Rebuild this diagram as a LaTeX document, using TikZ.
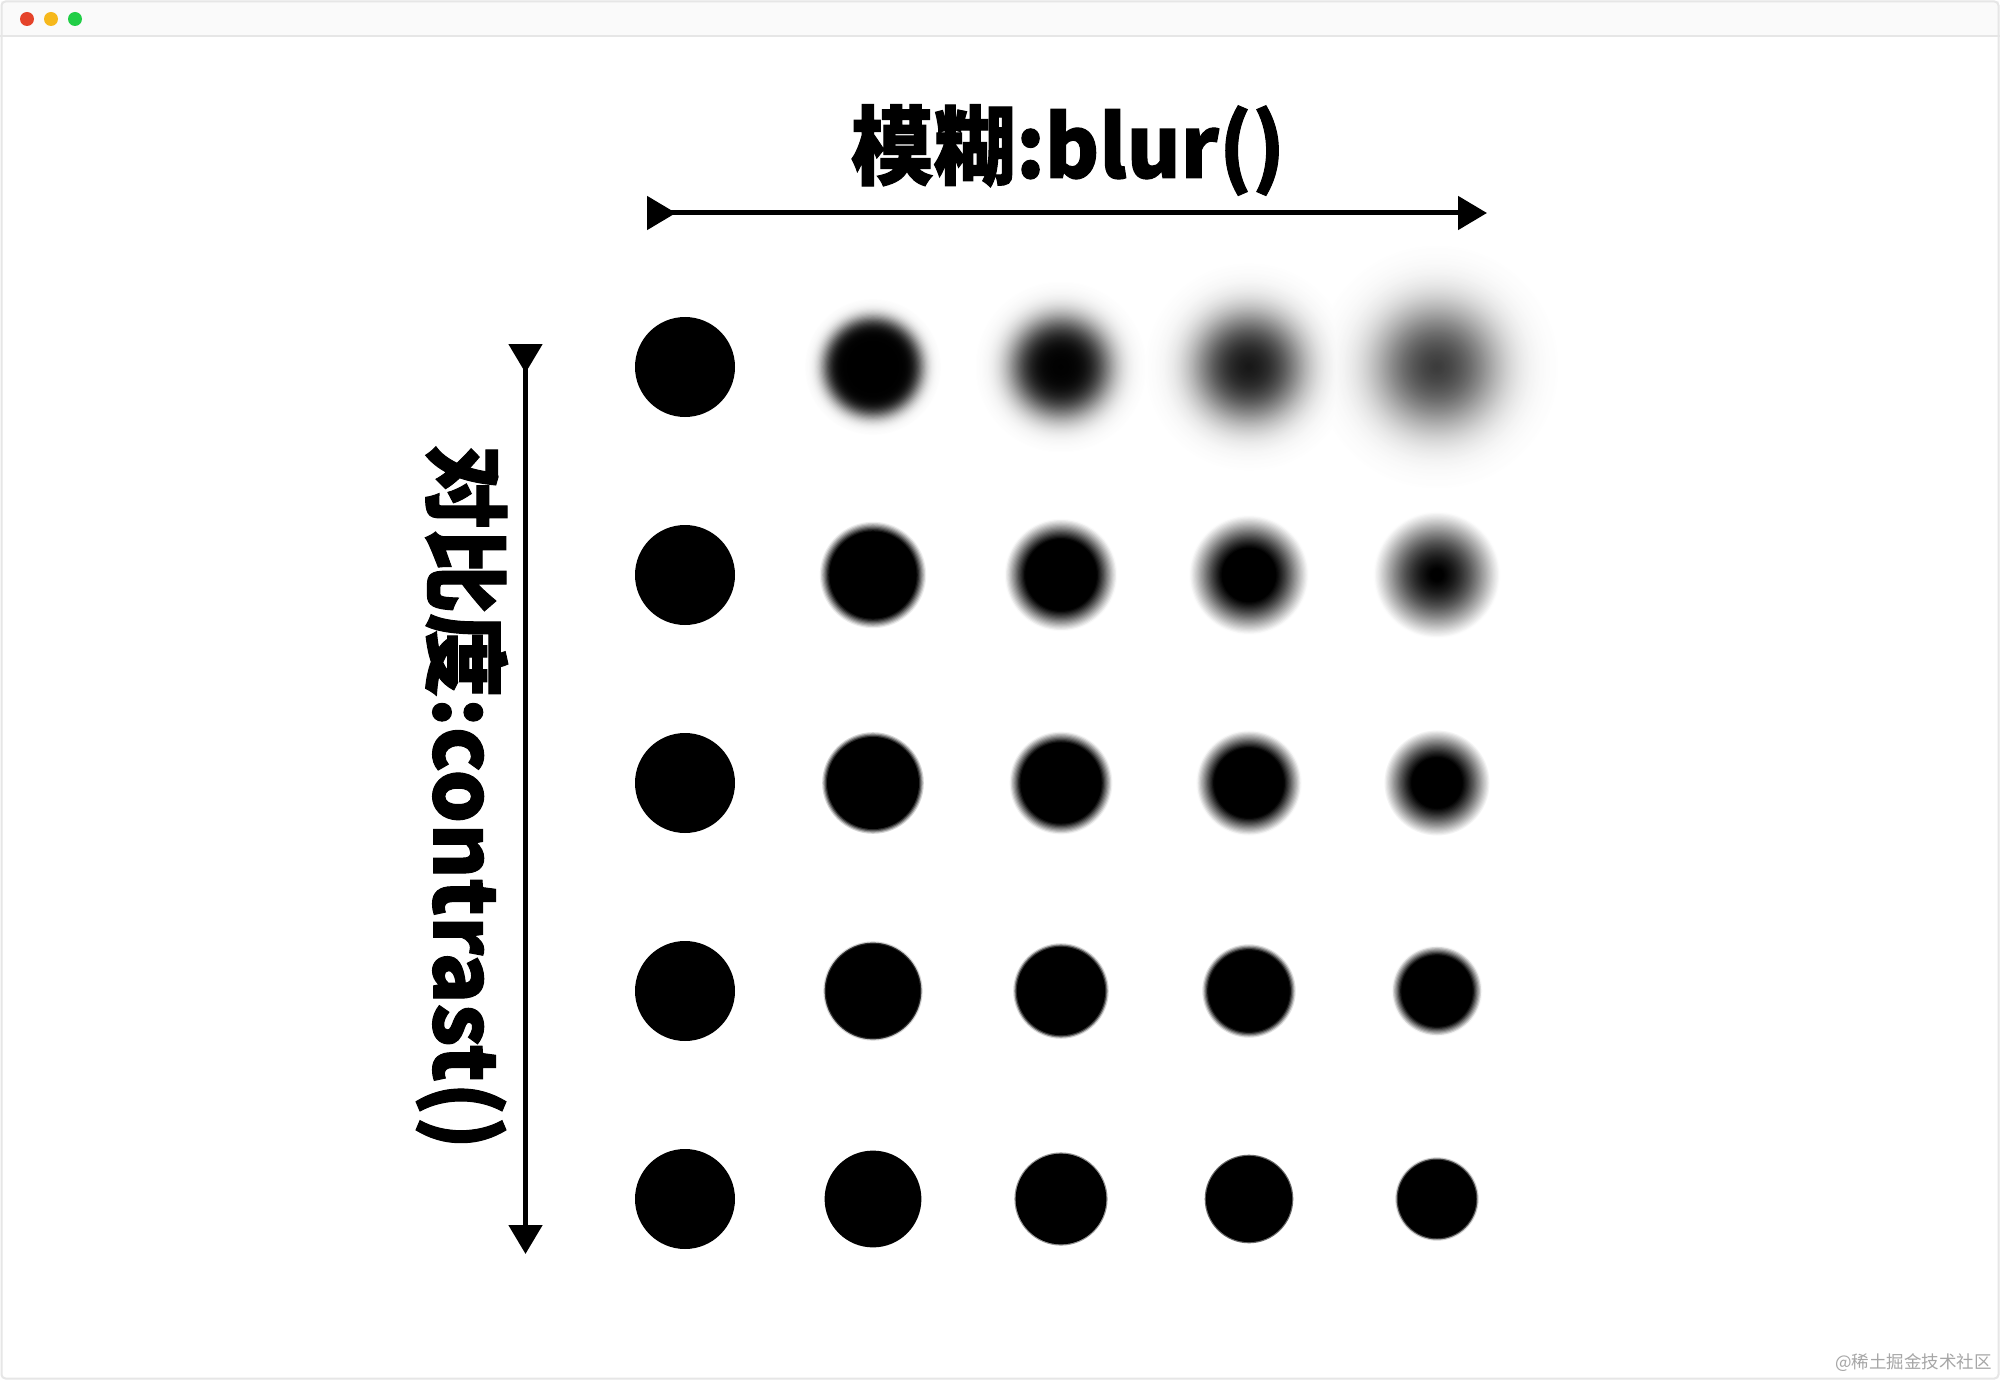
\documentclass[tikz,border=0pt]{standalone}
\usepackage{fontspec}
\usetikzlibrary{arrows.meta}
\newfontfamily\cjk{Noto Sans CJK SC}[BoldFeatures={FakeBold=1.2}]
\definecolor{dotred}{HTML}{E5432A}
\definecolor{dotorange}{HTML}{F6B81C}
\definecolor{dotgreen}{HTML}{21CE46}
\definecolor{framegray}{HTML}{E6E6E6}
\begin{document}
\begin{tikzpicture}[x=1pt,y=-1pt,
  axis/.style={line width=5pt,
    {Triangle[reversed,length=29pt,width=33pt]}-{Triangle[length=29pt,width=33pt]}},
  bigtext/.style={font=\cjk\bfseries\fontsize{86}{86}\selectfont, inner sep=0pt},
  winbtn/.style={circle, inner sep=0pt, minimum size=14pt}]
\useasboundingbox (0,0) rectangle (2000,1380);
\fill[white] (0,0) rectangle (2000,1380);
% window frame
\fill[black!2] (1,1) rectangle (1999,36);
\draw[framegray, line width=1.5pt] (0,36) -- (2000,36);
\draw[framegray, line width=2pt, rounded corners=4pt] (1.5,1.5) rectangle (1998.5,1378.5);
\node[winbtn, fill=dotred] (bred) at (27,19) {};
\node[winbtn, fill=dotorange] (borange) at (51,19) {};
\node[winbtn, fill=dotgreen] (bgreen) at (75,19) {};
% titles
\node[bigtext] (blur) at (1068,150) {\scalebox{0.96}[1]{模糊:blur()}};
\node[bigtext, rotate=-90] (contrast) at (462,797) {\scalebox{0.98}[1]{对比度:contrast()}};
% axes
\coordinate (h0) at (647,213);
\coordinate (h1) at (1487,213);
\coordinate (v0) at (525.5,344);
\coordinate (v1) at (525.5,1254);
\draw[axis] (h0) -- (h1);
\draw[axis] (v0) -- (v1);
% blurred dots
\def\bSigList{{0,7.5,15,22,28}}
\def\bRList{{50,49,46.5,44.6,41.5}}
\def\bCList{{1,2,3.5,10,40}}
\foreach \bi in {0,...,4}{
  \foreach \bj in {0,...,4}{
    \pgfmathsetmacro\bCx{685+188*\bj}
    \pgfmathsetmacro\bCy{367+208*\bi}
    \pgfmathsetmacro\bSig{\bSigList[\bj]}
    \pgfmathsetmacro\bRf{\bRList[\bj]}
    \pgfmathsetmacro\bCt{\bCList[\bi]}
    \ifdim\bSig pt<0.5pt
      \fill[black] (\bCx,\bCy) circle[radius=50pt];
    \else
      \pgfmathsetmacro\bDz{1-exp(-min(2500/(2*\bSig*\bSig),9))}
      \pgfmathsetmacro\bP{0.5/\bDz}
      \pgfmathsetmacro\bZ{ln(\bP/(1-\bP))/1.702}
      \pgfmathsetmacro\bRh{\bRf+\bSig*\bZ}
      \pgfmathsetmacro\bRmax{\bRh+3.6*\bSig}
      \pgfmathtruncatemacro\bN{\bRmax/1.2}
      \foreach \bk in {0,...,\bN}{
        \pgfmathsetmacro\bRr{\bRmax-\bk*1.2}
        \pgfmathsetmacro\bX{max(min((\bRh-\bRr)/\bSig,5),-5)}
        \pgfmathsetmacro\bE{max(min(1.5976*\bX+0.070566*\bX*\bX*\bX,9),-9)}
        \pgfmathsetmacro\bD{\bDz/(1+exp(-\bE))}
        \pgfmathsetmacro\bDc{100*max(0,min(1,(\bD-0.5)*\bCt+0.5))}
        \ifdim\bDc pt>0.4pt
          \fill[black!\bDc, blend mode=darken] (\bCx,\bCy) circle[radius=\bRr pt];
        \fi
      }
    \fi
  }
}
% watermark
\node[font=\cjk\fontsize{17.5}{17.5}\selectfont, text=black!35, anchor=east, inner sep=0pt] (mark) at (1992,1363) {@稀土掘金技术社区};
\end{tikzpicture}
\end{document}
